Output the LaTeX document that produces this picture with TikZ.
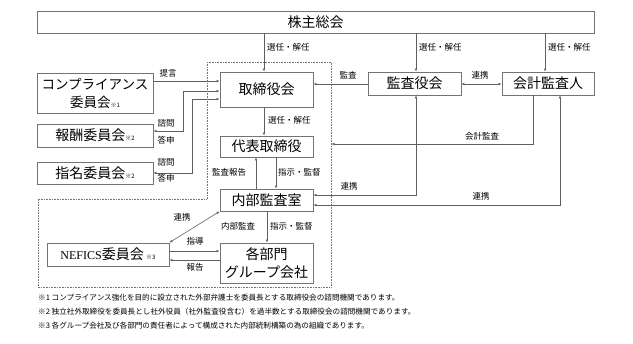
\documentclass[tikz,border=0pt]{standalone}
\usepackage{fontspec}
\setmainfont{Noto Sans CJK JP}
\newfontfamily\latinserif{Liberation Serif}
\usetikzlibrary{arrows.meta}
\definecolor{boxgray}{RGB}{115,115,115}
\definecolor{linegray}{RGB}{95,95,95}
\begin{document}
\begin{tikzpicture}[x=1pt,y=-1pt,
  box/.style={draw=boxgray, line width=0.8pt, inner sep=0pt, align=center,
    font=\fontsize{14}{17}\selectfont},
  conn/.style={draw=linegray, line width=0.6pt, -{Latex[length=3pt,width=2.6pt]}},
  both/.style={draw=linegray, line width=0.6pt,
    {Latex[length=3pt,width=2.6pt]}-{Latex[length=3pt,width=2.6pt]}},
  lbl/.style={font=\fontsize{8.5}{10}\selectfont, inner sep=0pt},
  note/.style={font=\fontsize{7.6}{9}\selectfont, anchor=west, inner sep=0pt},
  frame/.style={draw=boxgray, line width=0.6pt, densely dotted}]
\useasboundingbox (0,0) rectangle (633,344);

% boxes
\node[box, minimum width=557pt, minimum height=22pt] (sh) at (315.5,22) {株主総会};
\node[box, minimum width=93pt, minimum height=35pt] (board) at (266.5,89.5) {取締役会};
\node[box, minimum width=93pt, minimum height=23pt] (kansa) at (414.5,83.5) {監査役会};
\node[box, minimum width=92pt, minimum height=23pt] (kaikei) at (548,83.5) {会計監査人};
\node[box, minimum width=116pt, minimum height=40pt, font=\fontsize{13.5}{18}\selectfont] (comp) at (95,93)
  {コンプライアンス\\委員会{\fontsize{6}{7}\selectfont ※1}};
\node[box, minimum width=116pt, minimum height=23pt] (hoshu) at (95,135.5) {報酬委員会{\fontsize{6}{7}\selectfont ※2}};
\node[box, minimum width=116pt, minimum height=22pt] (shimei) at (95,173) {指名委員会{\fontsize{6}{7}\selectfont ※2}};
\node[box, minimum width=93pt, minimum height=21pt] (daihyo) at (266.5,146.5) {代表取締役};
\node[box, minimum width=93pt, minimum height=22pt] (naibu) at (266.5,200) {内部監査室};
\node[box, minimum width=93pt, minimum height=40pt, font=\fontsize{14}{18}\selectfont] (kakubu) at (266.5,263) {各部門\\グループ会社};
\node[box, minimum width=122pt, minimum height=23pt] (nefics) at (108,254.5)
  {{\latinserif\fontsize{12}{14}\selectfont NEFICS}委員会\,{\fontsize{6}{7}\selectfont ※3}};

% dotted frame
\draw[frame] (207,62) -- (331,62) -- (331,287) -- (38,287) -- (38,199) -- (207,199) -- cycle;

% helper coordinates
\coordinate (c183) at (183,0);
\coordinate (c192) at (192,0);
\coordinate (c256) at (256,0);
\coordinate (c264) at (264,0);
\coordinate (c267) at (267,0);
\coordinate (c276) at (276,0);
\coordinate (c416) at (416,0);
\coordinate (c533) at (533,0);
\coordinate (c545) at (545,0);
\coordinate (c560) at (560,0);
\coordinate (dotR) at (331.5,0);
\coordinate (r81) at (0,81);
\coordinate (r84) at (0,84);
\coordinate (r91) at (0,91);
\coordinate (r99) at (0,99);
\coordinate (r131) at (0,131);
\coordinate (r144) at (0,144);
\coordinate (r173) at (0,173);
\coordinate (r195) at (0,195);
\coordinate (r205) at (0,205);
\coordinate (r251) at (0,251);
\coordinate (r260) at (0,260);

% connectors
\draw[conn] (sh.south -| c264) -- (board.north -| c264);
\draw[conn] (sh.south -| c416) -- (kansa.north -| c416);
\draw[conn] (sh.south -| c545) -- (kaikei.north -| c545);
\draw[conn] (kansa.west |- r84) -- (board.east |- r84);
\draw[both] (kansa.east |- r84) -- (kaikei.west |- r84);
\draw[conn] (comp.east |- r81) -- (board.west |- r81);
\draw[both] (hoshu.east |- r131) -| (c183 |- r91) -- (board.west |- r91);
\draw[both] (shimei.east |- r173) -| (c192 |- r99) -- (board.west |- r99);
\draw[conn] (board.south -| c264) -- (daihyo.north -| c264);
\draw[conn] (naibu.north -| c256) -- (daihyo.south -| c256);
\draw[conn] (daihyo.south -| c276) -- (naibu.north -| c276);
\draw[conn] (kaikei.south -| c533) |- (dotR |- r144);
\draw[both] (kansa.south -| c416) |- (naibu.east |- r195);
\draw[both] (kaikei.south -| c560) |- (naibu.east |- r205);
\draw[both] (naibu.south west) -- (nefics.north east);
\draw[conn] (nefics.east |- r251) -- (kakubu.west |- r251);
\draw[conn] (kakubu.west |- r260) -- (nefics.east |- r260);
\draw[conn] (naibu.south -| c267) -- (kakubu.north -| c267);

% labels
\node[lbl, anchor=west] (l1) at (267,47) {選任・解任};
\node[lbl, anchor=west] (l2) at (419,47) {選任・解任};
\node[lbl, anchor=west] (l3) at (548,47) {選任・解任};
\node[lbl] (l4) at (348,75) {監査};
\node[lbl] (l5) at (480,75) {連携};
\node[lbl] (l6) at (168,73) {提言};
\node[lbl] (l7) at (166,123) {諮問};
\node[lbl] (l8) at (166,140) {答申};
\node[lbl] (l9) at (166,162) {諮問};
\node[lbl] (l10) at (166,178) {答申};
\node[lbl, anchor=west] (l11) at (268,120) {選任・解任};
\node[lbl] (l12) at (229,172) {監査報告};
\node[lbl, anchor=west] (l13) at (278,172) {指示・監督};
\node[lbl] (l14) at (482,136) {会計監査};
\node[lbl] (l15) at (349,186) {連携};
\node[lbl] (l16) at (481,196) {連携};
\node[lbl] (l17) at (182,217) {連携};
\node[lbl] (l18) at (195,241) {指導};
\node[lbl] (l19) at (195,267) {報告};
\node[lbl] (l20) at (238,226) {内部監査};
\node[lbl, anchor=west] (l21) at (270,226) {指示・監督};

% notes
\node[note] (n1) at (38,298) {※1 コンプライアンス強化を目的に設立された外部弁護士を委員長とする取締役会の諮問機関であります。};
\node[note] (n2) at (38,312) {※2 独立社外取締役を委員長とし社外役員（社外監査役含む）を過半数とする取締役会の諮問機関であります。};
\node[note] (n3) at (38,326) {※3 各グループ会社及び各部門の責任者によって構成された内部統制構築の為の組織であります。};
\end{tikzpicture}
\end{document}
